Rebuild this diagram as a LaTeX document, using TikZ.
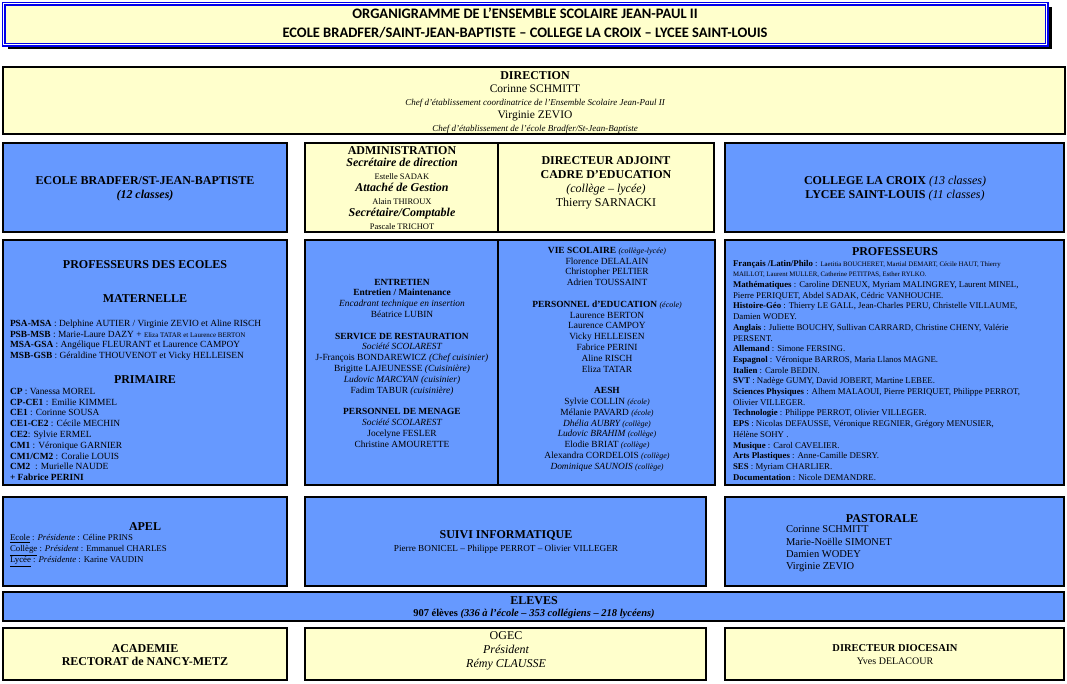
\documentclass[tikz,border=0pt]{standalone}
\usepackage{fontspec}
\usetikzlibrary{shadows}
\setmainfont{Liberation Serif}
\newfontfamily\calfont{Carlito}
\definecolor{boxblue}{RGB}{102,153,255}
\definecolor{boxyellow}{RGB}{255,255,204}
\definecolor{titleblue}{RGB}{0,0,235}
\newcommand\fs[2]{\fontsize{#1}{#2}\selectfont}
\newcommand\orgbox[6]{\node[#2, minimum width={(#5-#3)*1pt}, minimum height={(#6-#4)*1pt}] (#1) at (#3,#4) {};}
\begin{document}
\begin{tikzpicture}[x=1pt,y=-1pt,
  frame/.style={draw=black, line width=1.1pt, anchor=north west, inner sep=0pt, outer sep=0pt,
                drop shadow={shadow xshift=1.1pt, shadow yshift=-1.1pt, opacity=1, fill=black}},
  bluebox/.style={frame, fill=boxblue},
  yellowbox/.style={frame, fill=boxyellow},
  txt/.style={inner sep=0pt, outer sep=0pt, align=center, text=black},
  ltxt/.style={inner sep=0pt, outer sep=0pt, align=left, text=black, anchor=north west},
]
\useasboundingbox (0,0) rectangle (1067,683);
\fill[white] (0,0) rectangle (1067,683);

% ---------- title ----------
\fill[black] (8,7) rectangle (1052,49);
\node[draw=titleblue, line width=1.5pt, double=white, double distance=0.8pt, fill=boxyellow,
      anchor=north west, inner sep=0pt, minimum width=1043pt, minimum height=41pt] (title) at (3,3) {};
\node[txt, font=\calfont\bfseries\fs{14.5}{19}] (titletxt) at (525,23.5)
  {ORGANIGRAMME DE L’ENSEMBLE SCOLAIRE JEAN-PAUL II\\
   ECOLE BRADFER/SAINT-JEAN-BAPTISTE – COLLEGE LA CROIX – LYCEE SAINT-LOUIS};

% ---------- boxes ----------
\orgbox{dir}{yellowbox}{3}{67}{1065}{134}
\orgbox{ecole}{bluebox}{3}{143}{287}{232}
\orgbox{admin}{yellowbox}{305}{143}{498}{232}
\orgbox{adj}{yellowbox}{498}{143}{714}{232}
\orgbox{college}{bluebox}{725}{143}{1064}{232}
\orgbox{profe}{bluebox}{3}{240}{287}{485}
\orgbox{entr}{bluebox}{305}{240}{498}{485}
\orgbox{vie}{bluebox}{498}{240}{715}{485}
\orgbox{prof}{bluebox}{725}{240}{1064}{485}
\orgbox{apel}{bluebox}{3}{497}{287}{586}
\orgbox{suivi}{bluebox}{305}{497}{706}{586}
\orgbox{past}{bluebox}{725}{497}{1064}{586}
\orgbox{eleves}{bluebox}{3}{592}{1064}{621}
\orgbox{acad}{yellowbox}{3}{628}{287}{680}
\orgbox{ogec}{yellowbox}{305}{628}{706}{680}
\orgbox{dioc}{yellowbox}{725}{628}{1064}{680}

% ---------- direction ----------
\node[txt, font=\fs{11.5}{12.8}, anchor=north] (dirtxt) at (535,72)
  {\textbf{\fs{12}{12.8}DIRECTION}\\
   Corinne SCHMITT\\
   {\fs{9}{9}\itshape Chef d’établissement coordinatrice de l’Ensemble Scolaire Jean-Paul II}\\
   Virginie ZEVIO\\
   {\fs{9}{9}\itshape Chef d’établissement de l’école Bradfer/St-Jean-Baptiste}};

% ---------- row 2 ----------
\node[txt, font=\fs{12}{13.5}\bfseries] (ecoletxt) at (145,189)
  {ECOLE BRADFER/ST-JEAN-BAPTISTE\\{\itshape (12 classes)}};
\node[txt, font=\fs{12}{12.5}, anchor=north] (admintxt) at (402,146.5)
  {\textbf{ADMINISTRATION}\\
   {\bfseries\itshape Secrétaire de direction}\\
   {\fs{8.5}{9}Estelle SADAK}\\
   {\bfseries\itshape Attaché de Gestion}\\
   {\fs{8.5}{9}Alain THIROUX}\\
   {\bfseries\itshape Secrétaire/Comptable}\\
   {\fs{8.5}{9}Pascale TRICHOT}};
\node[txt, font=\fs{12}{14}, anchor=north] (adjtxt) at (606,157)
  {\textbf{DIRECTEUR ADJOINT}\\
   \textbf{CADRE D’EDUCATION}\\
   {\itshape (collège – lycée)}\\
   Thierry SARNACKI};
\node[txt, font=\fs{12}{14}] (collegetxt) at (895,189)
  {\textbf{COLLEGE LA CROIX} {\itshape (13 classes)}\\
   \textbf{LYCEE SAINT-LOUIS} {\itshape (11 classes)}};

% ---------- professeurs des écoles ----------
\node[txt, font=\fs{12}{13}\bfseries] (pdetitle) at (145,265) {PROFESSEURS DES ECOLES};
\node[txt, font=\fs{12}{13}\bfseries] (mattitle) at (145,299) {MATERNELLE};
\node[ltxt, font=\fs{9.4}{10.7}] (matlist) at (10,320)
  {\textbf{PSA-MSA} : Delphine AUTIER / Virginie ZEVIO et Aline RISCH\\
   \textbf{PSB-MSB} : Marie-Laure DAZY + {\fs{7}{8}Eliza TATAR et Laurence BERTON}\\
   \textbf{MSA-GSA} : Angélique FLEURANT et Laurence CAMPOY\\
   \textbf{MSB-GSB} : Géraldine THOUVENOT et Vicky HELLEISEN};
\node[txt, font=\fs{12}{13}\bfseries] (primtitle) at (145,380) {PRIMAIRE};
\node[ltxt, font=\fs{9.4}{10.8}] (primlist) at (10,388)
  {\textbf{CP} : Vanessa MOREL\\
   \textbf{CP-CE1} : Emilie KIMMEL\\
   \textbf{CE1} : Corinne SOUSA\\
   \textbf{CE1-CE2} : Cécile MECHIN\\
   \textbf{CE2}: Sylvie ERMEL\\
   \textbf{CM1} : Véronique GARNIER\\
   \textbf{CM1/CM2} : Coralie LOUIS\\
   \textbf{CM2} \ : Murielle NAUDE\\
   \textbf{+ Fabrice PERINI}};

% ---------- entretien ----------
\node[txt, font=\fs{9.4}{10.8}, anchor=north] (entrtxt) at (402,279)
  {\textbf{ENTRETIEN}\\
   \textbf{Entretien / Maintenance}\\
   {\itshape Encadrant technique en insertion}\\
   Béatrice LUBIN\\[10.8pt]
   \textbf{SERVICE DE RESTAURATION}\\
   {\itshape Société SCOLAREST}\\
   J-François BONDAREWICZ {\itshape (Chef cuisinier)}\\
   Brigitte LAJEUNESSE {\itshape (Cuisinière)}\\
   {\itshape Ludovic MARCYAN} {\itshape (cuisinier)}\\
   Fadim TABUR {\itshape (cuisinière)}\\[10.8pt]
   \textbf{PERSONNEL DE MENAGE}\\
   {\itshape Société SCOLAREST}\\
   Jocelyne FESLER\\
   Christine AMOURETTE};

% ---------- vie scolaire ----------
\node[txt, font=\fs{9.4}{10.8}, anchor=north] (vietxt) at (607,247)
  {\textbf{VIE SCOLAIRE} {\fs{8}{9}\itshape (collège-lycée)}\\
   Florence DELALAIN\\
   Christopher PELTIER\\
   Adrien TOUSSAINT\\[10.8pt]
   \textbf{PERSONNEL d’EDUCATION} {\fs{8}{9}\itshape (école)}\\
   Laurence BERTON\\
   Laurence CAMPOY\\
   Vicky HELLEISEN\\
   Fabrice PERINI\\
   Aline RISCH\\
   Eliza TATAR\\[10.8pt]
   \textbf{AESH}\\
   Sylvie COLLIN {\fs{8}{9}\itshape (école)}\\
   Mélanie PAVARD {\fs{8}{9}\itshape (école)}\\
   {\itshape Dhélia AUBRY} {\fs{8}{9}\itshape (collège)}\\
   {\itshape Ludovic BRAHIM} {\fs{8}{9}\itshape (collège)}\\
   Elodie BRIAT {\fs{8}{9}\itshape (collège)}\\
   Alexandra CORDELOIS {\fs{8}{9}\itshape (collège)}\\
   {\itshape Dominique SAUNOIS} {\fs{8}{9}\itshape (collège)}};

% ---------- professeurs ----------
\node[txt, font=\fs{12}{13}\bfseries] (proftitle) at (895,252) {PROFESSEURS};
\node[ltxt, font=\fs{8.8}{10.7}] (proflist) at (733,260)
  {\textbf{Français /Latin/Philo} : {\fs{6.8}{8}Laetitia BOUCHERET, Martial DEMART, Cécile HAUT, Thierry}\\
   {\fs{6.8}{8}MAILLOT, Laurent MULLER, Catherine PETITPAS, Esther RYLKO.}\\
   \textbf{Mathématiques} : Caroline DENEUX, Myriam MALINGREY, Laurent MINEL,\\
   Pierre PERIQUET, Abdel SADAK, Cédric VANHOUCHE.\\
   \textbf{Histoire-Géo} : Thierry LE GALL, Jean-Charles PERU, Christelle VILLAUME,\\
   Damien WODEY.\\
   \textbf{Anglais} : Juliette BOUCHY, Sullivan CARRARD, Christine CHENY, Valérie\\
   PERSENT.\\
   \textbf{Allemand} : Simone FERSING.\\
   \textbf{Espagnol} : Véronique BARROS, Maria Llanos MAGNE.\\
   \textbf{Italien} : Carole BEDIN.\\
   \textbf{SVT} : Nadège GUMY, David JOBERT, Martine LEBEE.\\
   \textbf{Sciences Physiques} : Alhem MALAOUI, Pierre PERIQUET, Philippe PERROT,\\
   Olivier VILLEGER.\\
   \textbf{Technologie} : Philippe PERROT, Olivier VILLEGER.\\
   \textbf{EPS} : Nicolas DEFAUSSE, Véronique REGNIER, Grégory MENUSIER,\\
   Hélène SOHY .\\
   \textbf{Musique} : Carol CAVELIER.\\
   \textbf{Arts Plastiques} : Anne-Camille DESRY.\\
   \textbf{SES} : Myriam CHARLIER.\\
   \textbf{Documentation} : Nicole DEMANDRE.};

% ---------- row 4 ----------
\node[txt, font=\fs{12}{13}\bfseries] (apeltitle) at (145,527) {APEL};
\node[ltxt, font=\fs{8.8}{11}] (apellist) at (10,534.5)
  {\underline{Ecole} : {\itshape Présidente} : Céline PRINS\\
   \underline{Collège} : {\itshape Président} : Emmanuel CHARLES\\
   \underline{Lycée} : {\itshape Présidente} : Karine VAUDIN};
\node[txt, font=\fs{12}{12.5}] (suivitxt) at (506,542)
  {\textbf{SUIVI INFORMATIQUE}\\
   {\fs{9.2}{9}Pierre BONICEL – Philippe PERROT – Olivier VILLEGER}};
\node[txt, font=\fs{12}{13}\bfseries] (pasttitle) at (882,519) {PASTORALE};
\node[ltxt, font=\fs{10.5}{12.3}] (pastlist) at (786,526)
  {Corinne SCHMITT\\
   Marie-Noëlle SIMONET\\
   Damien WODEY\\
   Virginie ZEVIO};

% ---------- eleves ----------
\node[txt, font=\fs{12}{12}] (elevestxt) at (534,607.5)
  {\textbf{ELEVES}\\
   {\fs{10.5}{10}\bfseries 907 élèves {\itshape (336 à l’école – 353 collégiens – 218 lycéens)}}};

% ---------- bottom row ----------
\node[txt, font=\fs{12}{13}\bfseries] (acadtxt) at (145,655)
  {ACADEMIE\\RECTORAT de NANCY-METZ};
\node[txt, font=\fs{12}{14}] (ogectxt) at (506,650.5)
  {OGEC\\{\itshape Président}\\{\itshape Rémy CLAUSSE}};
\node[txt, font=\fs{10.5}{13}] (dioctxt) at (895,655)
  {\textbf{DIRECTEUR DIOCESAIN}\\{\fs{10}{11}Yves DELACOUR}};
\end{tikzpicture}
\end{document}
